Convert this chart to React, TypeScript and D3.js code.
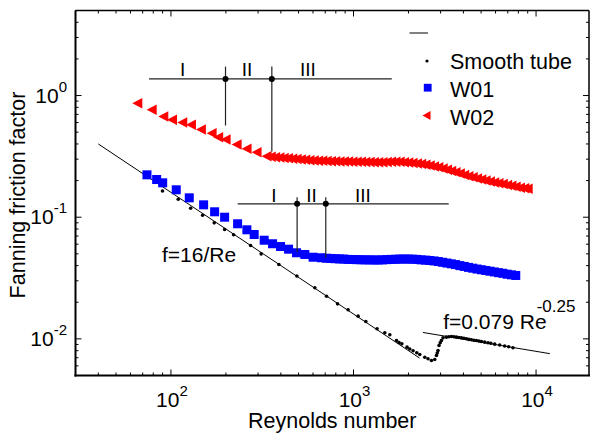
import * as d3 from 'd3'

// smooth tube measurements (black dots)
const smoothRe = [89.9, 109.6, 128.2, 149.1, 172.6, 196.8, 220.4, 273, 312.1, 390.1, 489.5, 614, 711.6, 817.4, 934, 1060, 1168, 1346, 1484, 1581, 1720, 1776, 1840, 1965, 2033, 2120, 2221, 2307, 2457, 2560, 2673, 2786, 2847, 2875, 2904, 2941, 2985, 3031, 3093, 3228, 3330, 3440, 3550, 3663, 3780, 3900, 4025, 4155, 4290, 4425, 4565, 4712, 4860, 5018, 5230, 5454, 5650, 5935, 6323, 6730, 7080, 7473]
const smoothF = [0.1641, 0.1403, 0.1186, 0.1038, 0.0899, 0.0793, 0.0718, 0.0585, 0.05, 0.0409, 0.0329, 0.0263, 0.0224, 0.0194, 0.01734, 0.01537, 0.0139, 0.01211, 0.01122, 0.0108, 0.0097, 0.00934, 0.0091, 0.00855, 0.00826, 0.00798, 0.00769, 0.00744, 0.00707, 0.00686, 0.00665, 0.00677, 0.0073, 0.00765, 0.00803, 0.00883, 0.0093, 0.0097, 0.0102, 0.01033, 0.0104, 0.01046, 0.01042, 0.01033, 0.01027, 0.0102, 0.01012, 0.01002, 0.0099, 0.00983, 0.00975, 0.0097, 0.0096, 0.00952, 0.0094, 0.00929, 0.0092, 0.00905, 0.0089, 0.00874, 0.00861, 0.00845]

// W01 (blue squares)
const w01Re = [73.9, 83.5, 90.1, 106.9, 126, 151, 173.5, 196.8, 231.8, 260.6, 285.7, 324.1, 360.3, 398.5, 440.9, 487.5, 541.2, 600.8, 668, 712, 752, 793, 838, 884, 934, 986, 1041, 1099, 1160, 1225, 1293, 1365, 1441, 1521, 1606, 1696, 1790, 1890, 1995, 2107, 2224, 2348, 2479, 2617, 2763, 2917, 3079, 3251, 3432, 3624, 3825, 4039, 4264, 4501, 4752, 5017, 5297, 5592, 5903, 6232, 6580, 6946, 7334, 7742]
const w01F = [0.223, 0.2041, 0.1917, 0.168, 0.1443, 0.1264, 0.1108, 0.1, 0.0883, 0.0788, 0.0721, 0.0647, 0.0605, 0.0574, 0.0546, 0.051, 0.0494, 0.0469, 0.0464, 0.046, 0.0458, 0.0456, 0.0454, 0.0453, 0.045, 0.0449, 0.0448, 0.0447, 0.0446, 0.0446, 0.0445, 0.0445, 0.0446, 0.0448, 0.045, 0.0451, 0.0453, 0.0453, 0.0453, 0.0452, 0.045, 0.0446, 0.0444, 0.0441, 0.0437, 0.0432, 0.0426, 0.042, 0.0414, 0.0408, 0.04, 0.0394, 0.0387, 0.0381, 0.0375, 0.037, 0.0365, 0.036, 0.0355, 0.035, 0.0346, 0.034, 0.0336, 0.0332]

// W02 (red triangles)
const w02Re = [65.4, 78.4, 90.8, 101.3, 115.3, 128.7, 145.9, 167, 181.5, 199.3, 228.9, 259.6, 294.4, 334, 352, 372, 393, 415, 438, 462, 488, 515, 544, 574, 606, 640, 675, 713, 753, 795, 839, 886, 935, 987, 1042, 1100, 1161, 1226, 1294, 1366, 1442, 1522, 1607, 1697, 1791, 1891, 1996, 2107, 2225, 2349, 2479, 2617, 2763, 2917, 3080, 3251, 3432, 3623, 3825, 4038, 4263, 4500, 4751, 5015, 5295, 5589, 5901, 6229, 6576, 6943, 7329, 7737, 8168, 8623, 9000]
const w02F = [0.864, 0.763, 0.672, 0.631, 0.6, 0.574, 0.526, 0.49, 0.454, 0.435, 0.396, 0.365, 0.342, 0.317, 0.3147, 0.3117, 0.3094, 0.3071, 0.3048, 0.3025, 0.3002, 0.2979, 0.2962, 0.2945, 0.2928, 0.2917, 0.2906, 0.2895, 0.289, 0.2879, 0.2873, 0.2868, 0.2868, 0.2863, 0.2858, 0.2852, 0.2847, 0.2841, 0.2836, 0.2836, 0.2831, 0.2841, 0.2852, 0.2858, 0.2852, 0.2836, 0.2815, 0.2793, 0.2767, 0.2735, 0.27, 0.2659, 0.2614, 0.257, 0.2513, 0.2456, 0.2397, 0.2338, 0.2282, 0.2227, 0.2176, 0.2127, 0.2083, 0.2041, 0.2002, 0.1964, 0.1932, 0.1903, 0.1871, 0.1839, 0.1811, 0.178, 0.175, 0.1727, 0.1711]

// correlation lines (end points)
const lamRe = [40, 2300]
const lamF = [0.4, 0.00696]
const turbRe = [2400, 11900]
const turbF = [0.01129, 0.00756]

const legendLabels = ['Smooth tube', 'W01', 'W02']
const regionLabels = ['I', 'II', 'III']

// regime marks for W02 (upper) and W01 (lower)
const upperBarRe = [75.8, 1620]
const upperBarF = 1.37
const upperSplitRe = [199, 357]
const upperSplitTop = 1.73
const upperSplitBottom = [0.567, 0.346]
const upperLabelRe = [116, 261, 563]
const upperLabelF = 1.46

const lowerBarRe = [232, 3323]
const lowerBarF = 0.1288
const lowerSplitRe = [491, 705]
const lowerSplitTop = 0.146
const lowerSplitBottom = [0.0516, 0.0464]
const lowerLabelRe = [366, 589, 1125]
const lowerLabelF = 0.1333

const W = 590, H = 434
const font = 'Liberation Sans, Arial, sans-serif'

export default function App() {
  const x = d3.scaleLog().domain([30, 19500]).range([75.5, 589])
  const y = d3.scaleLog().domain([0.005, 5]).range([375.5, 10.5])
  const [x0, x1] = x.range()
  const [y0, y1] = y.range()

  const xt = x.ticks()
  const yt = y.ticks()
  const isMajor = (v: number) => Math.abs(Math.log10(v) - Math.round(Math.log10(v))) < 1e-6

  const tri = (cx: number, cy: number, w: number, h: number) =>
    `M${cx - w / 2},${cy}L${cx + w / 2},${cy - h / 2}L${cx + w / 2},${cy + h / 2}Z`

  const line = d3.line<[number, number]>().x(d => x(d[0])).y(d => y(d[1]))

  const sq = 9

  return (
    <svg width={W} height={H} style={{ position: 'absolute', left: 0, top: 0, background: '#fff' }} fontFamily={font}>
      {/* correlations */}
      <path d={line(lamRe.map((r, i) => [r, lamF[i]]) as any)!} stroke="#000" strokeWidth={1} fill="none" />
      <path d={line(turbRe.map((r, i) => [r, turbF[i]]) as any)!} stroke="#000" strokeWidth={1} fill="none" />

      {/* W02 */}
      {w02Re.map((r, i) => (
        <path key={'t' + i} d={tri(x(r), y(w02F[i]), 10, 10.5)} fill="#ff0000" />
      ))}
      {/* W01 */}
      {w01Re.map((r, i) => (
        <rect key={'s' + i} x={x(r) - sq / 2} y={y(w01F[i]) - sq / 2} width={sq} height={sq} fill="#0000ff" />
      ))}
      {/* smooth tube */}
      {smoothRe.map((r, i) => (
        <circle key={'c' + i} cx={x(r)} cy={y(smoothF[i])} r={1.8} fill="#000" />
      ))}

      {/* regime marks */}
      <g stroke="#222" strokeWidth={1.2}>
        <line x1={x(upperBarRe[0])} x2={x(upperBarRe[1])} y1={y(upperBarF)} y2={y(upperBarF)} />
        {upperSplitRe.map((r, i) => (
          <line key={i} x1={x(r)} x2={x(r)} y1={y(upperSplitTop)} y2={y(upperSplitBottom[i])} />
        ))}
        <line x1={x(lowerBarRe[0])} x2={x(lowerBarRe[1])} y1={y(lowerBarF)} y2={y(lowerBarF)} />
        {lowerSplitRe.map((r, i) => (
          <line key={i} x1={x(r)} x2={x(r)} y1={y(lowerSplitTop)} y2={y(lowerSplitBottom[i])} />
        ))}
      </g>
      {upperSplitRe.map((r, i) => <circle key={'u' + i} cx={x(r)} cy={y(upperBarF)} r={3} fill="#000" />)}
      {lowerSplitRe.map((r, i) => <circle key={'l' + i} cx={x(r)} cy={y(lowerBarF)} r={3} fill="#000" />)}
      {regionLabels.map((t, i) => (
        <text key={'ul' + i} x={x(upperLabelRe[i])} y={y(upperLabelF)} fontSize={19} textAnchor="middle">{t}</text>
      ))}
      {regionLabels.map((t, i) => (
        <text key={'ll' + i} x={x(lowerLabelRe[i])} y={y(lowerLabelF)} fontSize={19} textAnchor="middle">{t}</text>
      ))}

      {/* equation labels */}
      <text x={x(89.3)} y={y(0.0431)} fontSize={21}>f=16/Re</text>
      <text x={x(3102)} y={y(0.012)} fontSize={21}>f=0.079 Re</text>
      <text x={x(10080)} y={y(0.01672)} fontSize={17}>-0.25</text>

      {/* frame */}
      <g stroke="#000" fill="none">
        <line x1={x0} x2={x1} y1={y1} y2={y1} strokeWidth={1.5} />
        <line x1={x1} x2={x1} y1={y1} y2={y0} strokeWidth={1.5} />
        <line x1={x0} x2={x0} y1={y1} y2={y0 + 1} strokeWidth={2} />
        <line x1={x0 - 1} x2={x1 + 1} y1={y0} y2={y0} strokeWidth={2.2} />
      </g>
      {/* ticks */}
      <g stroke="#000" strokeWidth={1}>
        {xt.map((v, i) => {
          const l = isMajor(v) ? 6 : 3
          return (
            <g key={'xt' + i}>
              <line x1={x(v)} x2={x(v)} y1={y0} y2={y0 - l} />
              <line x1={x(v)} x2={x(v)} y1={y1} y2={y1 + l} />
            </g>
          )
        })}
        {yt.map((v, i) => {
          const l = isMajor(v) ? 6 : 3
          return (
            <g key={'yt' + i}>
              <line x1={x0} x2={x0 + l} y1={y(v)} y2={y(v)} />
              <line x1={x1} x2={x1 - l} y1={y(v)} y2={y(v)} />
            </g>
          )
        })}
      </g>
      {/* tick labels */}
      {xt.filter(isMajor).map((v, i) => (
        <text key={'xl' + i} x={x(v) + 1} y={406.5} fontSize={21} textAnchor="middle">
          10<tspan fontSize={15} dy={-11}>{Math.round(Math.log10(v))}</tspan>
        </text>
      ))}
      {yt.filter(isMajor).map((v, i) => (
        <text key={'yl' + i} x={67} y={y(v) + 7} fontSize={21} textAnchor="end">
          10<tspan fontSize={15} dy={-11}>{Math.round(Math.log10(v))}</tspan>
        </text>
      ))}

      {/* axis titles */}
      <text x={(x0 + x1) / 2} y={428} fontSize={21.5} textAnchor="middle">Reynolds number</text>
      <text transform={`translate(25,${195}) rotate(-90)`} fontSize={21.5} textAnchor="middle">Fanning friction factor</text>

      {/* legend */}
      <g>
        <line x1={409.5} x2={428} y1={33} y2={33} stroke="#000" strokeWidth={1} />
        <circle cx={427} cy={61} r={1.6} fill="#000" />
        <rect x={427.7 - 3.9} y={87.7 - 3.9} width={7.8} height={7.8} fill="#0000ff" />
        <path d={tri(426.5, 115.5, 8, 9)} fill="#ff0000" />
        {legendLabels.map((t, i) => (
          <text key={'lg' + i} x={450} y={69 + i * 28} fontSize={21.5}>{t}</text>
        ))}
      </g>
    </svg>
  )
}
